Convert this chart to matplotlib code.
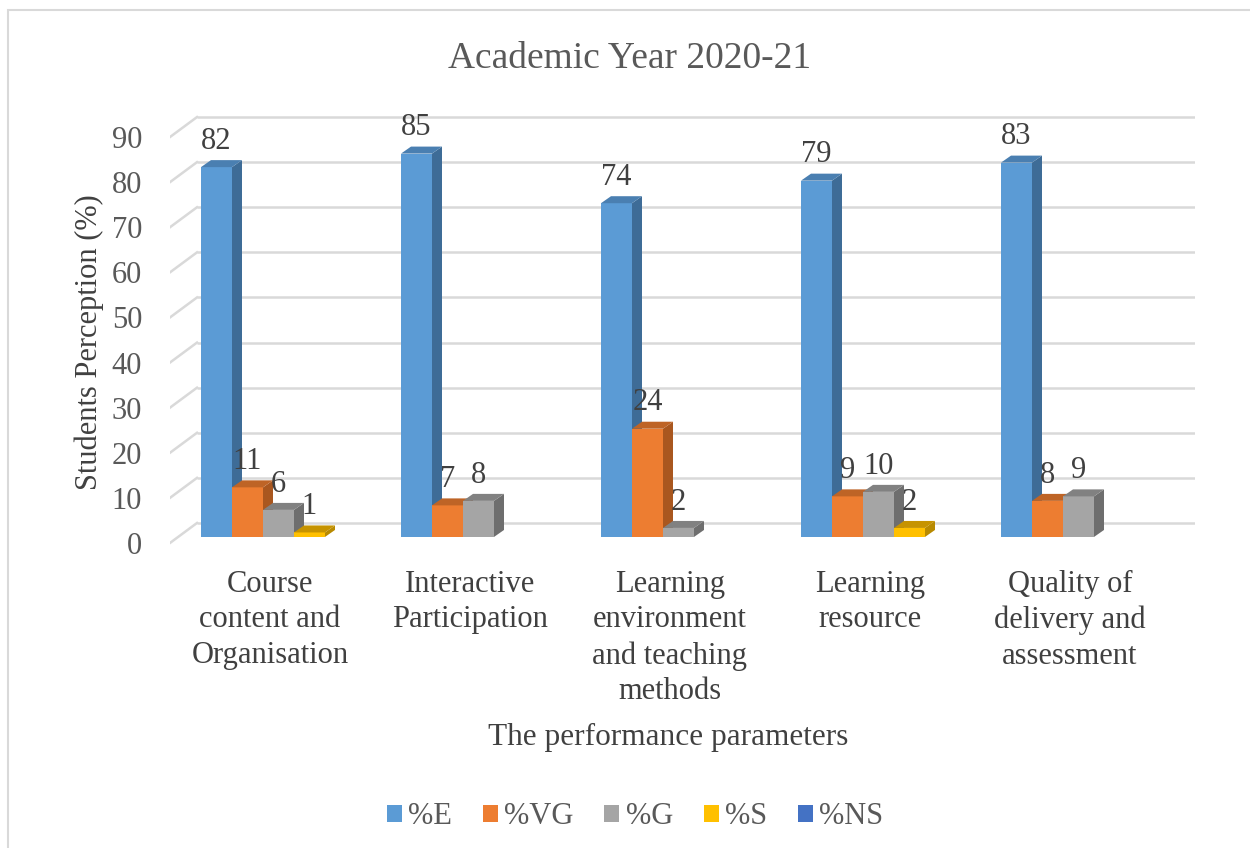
import numpy as np
from matplotlib import pyplot as plt
from matplotlib.patches import Polygon, Rectangle

plt.rcParams['font.family'] = ['Liberation Serif', 'DejaVu Serif']

title = "Academic Year 2020-21"
categories = ["Course\ncontent and\nOrganisation", "Interactive\nParticipation",
              "Learning\nenvironment\nand teaching\nmethods", "Learning\nresource",
              "Quality of\ndelivery and\nassessment"]
series_names = ["%E", "%VG", "%G", "%S", "%NS"]
pct_e = [82, 85, 74, 79, 83]
pct_vg = [11, 7, 24, 9, 8]
pct_g = [6, 8, 2, 10, 9]
pct_s = [1, 0, 0, 2, 0]
pct_ns = [0, 0, 0, 0, 0]
y_ticks = list(range(0, 100, 10))

# front / side / top shades, Excel-like 3D look
shades = [
    ("#5B9BD5", "#3E6C97", "#4A7FB1"),
    ("#ED7D31", "#A9571F", "#BE6426"),
    ("#A5A5A5", "#6E6E6E", "#818181"),
    ("#FFC000", "#B88A00", "#C69300"),
    ("#4472C4", "#2F5089", "#3A61A6"),
]

# 3D geometry in data units
bar_w = 0.155
first_bar = -0.345
base = 1.33          # bars sit a bit behind the front plane
depth_x, depth_y = 0.05, 1.55
wall_x, wall_y = 0.135, 4.43

fig = plt.figure(figsize=(12.5, 8.48), dpi=100)
fig.patches.append(Rectangle((8 / 1250, -0.1), 1.2, 1 - 10 / 848 + 0.1,
                             transform=fig.transFigure, fill=False,
                             edgecolor="#D9D9D9", lw=1.5))
ax = fig.add_axes([170 / 1250, 0.3544, 1025 / 1250, 0.5106])
ax.set_xlim(-0.5, -0.5 + 1025 / 200)
ax.set_ylim(-1, 95)
for s in ax.spines.values():
    s.set_visible(False)

# back wall gridlines + side wall diagonals
for v in y_ticks:
    ax.plot([-0.5 + wall_x, 4.5 + wall_x], [v + wall_y, v + wall_y],
            color="#D9D9D9", lw=1.8, zorder=0, solid_capstyle='butt')
    ax.plot([-0.5, -0.5 + wall_x], [v, v + wall_y],
            color="#D9D9D9", lw=1.8, zorder=0)

all_series = [pct_e, pct_vg, pct_g, pct_s, pct_ns]
z = 2
for i in range(len(categories)):
    for j, vals in enumerate(all_series):
        v = vals[i]
        if v == 0:
            continue
        front, side, top = shades[j]
        x0 = i + first_bar + j * bar_w
        ax.bar(x0, v, width=bar_w, bottom=base, align='edge',
               color=front, zorder=z)
        ax.add_patch(Polygon([(x0 + bar_w, base), (x0 + bar_w + depth_x, base + depth_y),
                              (x0 + bar_w + depth_x, base + v + depth_y), (x0 + bar_w, base + v)],
                             closed=True, facecolor=side, edgecolor='none', zorder=z))
        ax.add_patch(Polygon([(x0, base + v), (x0 + bar_w, base + v),
                              (x0 + bar_w + depth_x, base + v + depth_y), (x0 + depth_x, base + v + depth_y)],
                             closed=True, facecolor=top, edgecolor='none', zorder=z))
        ax.text(x0 + bar_w / 2, base + v + depth_y + 2.5, str(v), ha='center',
                va='baseline', fontsize=22, color="#404040", zorder=50)
        z += 1

ax.set_xticks(range(len(categories)))
ax.set_xticklabels(categories, fontsize=22, color="#404040", linespacing=1.3)
ax.set_yticks(y_ticks)
ax.set_yticklabels([str(t) for t in y_ticks], fontsize=22, color="#595959")
ax.tick_params(axis='x', length=0, pad=16)
ax.tick_params(axis='y', length=0, pad=20)

ax.set_ylabel("Students Perception (%)", fontsize=22, color="#404040")
ax.yaxis.set_label_coords(-0.064, 0.475)
fig.text(668 / 1250, 1 - 737 / 848, "The performance parameters", ha='center',
         va='center', fontsize=22.5, color="#404040")
fig.text(630 / 1250, 1 - 59 / 848, title, ha='center', va='center',
         fontsize=27, color="#595959")

handles = [Rectangle((0, 0), 1, 1, facecolor=sh[0]) for sh in shades]
leg = fig.legend(handles, series_names, loc='center', bbox_to_anchor=(635 / 1250, 1 - 817 / 848),
                 ncol=5, frameon=False, fontsize=22, handlelength=0.5, handleheight=0.5,
                 handletextpad=0.2, columnspacing=1.0)
for t in leg.get_texts():
    t.set_color("#595959")

fig.savefig("out.png", dpi=100)
